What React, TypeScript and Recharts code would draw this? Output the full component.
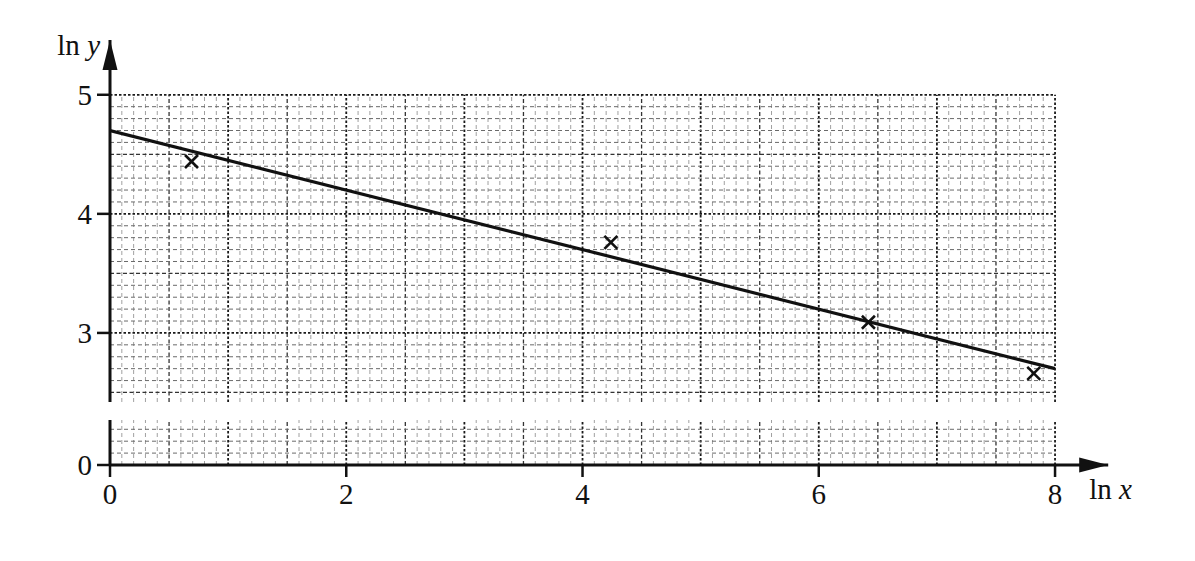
import React from 'react';
import {
  ComposedChart,
  XAxis,
  YAxis,
  Line,
  Scatter,
  ReferenceLine,
  ReferenceDot,
  Label,
} from 'recharts';

// ---- data ----
const xTicks = [0, 2, 4, 6, 8];
const upperYTicks = [3, 4, 5];
const lowerYTicks = [0];
const pointX = [0.69, 4.24, 6.42, 7.82];
const pointY = [4.44, 3.76, 3.09, 2.66];
const fitX = [0, 8];
const fitY = [4.7, 2.7];

const points = pointX.map((x, i) => ({ x, y: pointY[i] }));
const fit = fitX.map((x, i) => ({ x, y: fitY[i] }));

// ---- layout / style constants ----
const FONT = '"Liberation Serif", "Times New Roman", serif';
const INK = '#111';
const X_DOMAIN: [number, number] = [0, 8.45];
const GRID_X_MAX = 8;
const UPPER_DOMAIN: [number, number] = [2.42, 5.46];
const UPPER_GRID_TOP = 5;
const LOWER_DOMAIN: [number, number] = [0, 0.378];
const W = 1195;
const MARGIN_LEFT = 10;
const Y_AXIS_W = 100;
const MARGIN_RIGHT = 86.8;
const FS = 29;

const tenths = (from: number, to: number) => {
  const out: number[] = [];
  for (let i = Math.ceil(from * 10 - 1e-6); i <= Math.floor(to * 10 + 1e-6); i++) out.push(i);
  return out;
};

const styleFor = (i: number, horizontal: boolean) => {
  if (i % 10 === 0) return { stroke: '#1a1a1a', strokeWidth: 1.8, strokeDasharray: '2.5 2' };
  if (i % 5 === 0) return { stroke: '#333', strokeWidth: 1.3, strokeDasharray: '4 2.5' };
  return horizontal
    ? { stroke: '#6a6a6a', strokeWidth: 1, strokeDasharray: '4 3' }
    : { stroke: '#a0a0a0', strokeWidth: 1, strokeDasharray: '4 3' };
};

const verticalGrid = (y0: number, y1: number, key: string) =>
  tenths(0, GRID_X_MAX).map((i) => (
    <ReferenceLine
      key={`${key}v${i}`}
      segment={[
        { x: i / 10, y: y0 },
        { x: i / 10, y: y1 },
      ]}
      {...styleFor(i, false)}
      ifOverflow="visible"
    />
  ));

const horizontalGrid = (y0: number, y1: number, key: string) =>
  tenths(y0, y1)
    .filter((i) => i !== 0)
    .map((i) => (
      <ReferenceLine
        key={`${key}h${i}`}
        segment={[
          { x: 0, y: i / 10 },
          { x: GRID_X_MAX, y: i / 10 },
        ]}
        {...styleFor(i, true)}
        ifOverflow="visible"
      />
    ));

const Cross = (props: any) => {
  const { cx, cy } = props;
  if (cx == null || cy == null) return <g />;
  const s = 6.5;
  return (
    <g stroke={INK} strokeWidth={2.6}>
      <line x1={cx - s} y1={cy - s} x2={cx + s} y2={cy + s} />
      <line x1={cx - s} y1={cy + s} x2={cx + s} y2={cy - s} />
    </g>
  );
};

const ArrowUp = (props: any) => {
  const { cx, cy } = props;
  return <polygon points={`${cx},${cy} ${cx - 7.5},${cy + 30} ${cx + 7.5},${cy + 30}`} fill={INK} />;
};

const ArrowRight = (props: any) => {
  const { cx, cy } = props;
  return <polygon points={`${cx},${cy} ${cx - 29},${cy - 7.5} ${cx - 29},${cy + 7.5}`} fill={INK} />;
};

const XTick = (props: any) => {
  const { x, y, payload } = props;
  return (
    <text x={x} y={y} dy="0.71em" textAnchor="middle" fontSize={FS} fill={INK} style={{ fontFamily: FONT }}>
      {payload.value}
    </text>
  );
};

const YTick = (props: any) => {
  const { x, y, payload } = props;
  return (
    <text x={x} y={y} dy="0.355em" textAnchor="end" fontSize={FS} fill={INK} style={{ fontFamily: FONT }}>
      {payload.value}
    </text>
  );
};

const axisLineStyle = { stroke: INK, strokeWidth: 3 };
const tickLineStyle = { stroke: INK, strokeWidth: 2.5 };

const YLabel = (props: any) => {
  const vb = props.viewBox || { x: MARGIN_LEFT, y: 40, width: Y_AXIS_W, height: 0 };
  return (
    <text
      x={vb.x + vb.width - 10}
      y={vb.y + 15}
      textAnchor="end"
      fontSize={FS}
      fill={INK}
      style={{ fontFamily: FONT }}
    >
      <tspan>ln </tspan>
      <tspan fontStyle="italic">y</tspan>
    </text>
  );
};

const XLabel = (props: any) => {
  const vb = props.viewBox || { x: 110, y: 55, width: 998, height: 45 };
  return (
    <text
      x={vb.x + vb.width - 19}
      y={vb.y + 34}
      textAnchor="start"
      fontSize={FS}
      fill={INK}
      style={{ fontFamily: FONT }}
    >
      <tspan>ln </tspan>
      <tspan fontStyle="italic">x</tspan>
    </text>
  );
};

export default function App() {
  return (
    <div
      style={{
        position: 'absolute',
        left: 0,
        top: 0,
        width: W,
        height: 561,
        background: '#fff',
      }}
    >
      {/* upper part of broken axis */}
      <div style={{ position: 'absolute', left: 0, top: 0 }}>
        <ComposedChart
          width={W}
          height={410}
          margin={{ top: 40, right: MARGIN_RIGHT, bottom: 8, left: MARGIN_LEFT }}
        >
          <XAxis type="number" dataKey="x" domain={X_DOMAIN} hide allowDataOverflow />
          <YAxis
            type="number"
            domain={UPPER_DOMAIN}
            ticks={upperYTicks}
            interval={0}
            width={Y_AXIS_W}
            allowDataOverflow
            tickSize={13}
            tickMargin={5}
            axisLine={axisLineStyle}
            tickLine={tickLineStyle}
            tick={YTick}
          >
            <Label content={YLabel} />
          </YAxis>
          {verticalGrid(UPPER_DOMAIN[0], UPPER_GRID_TOP, 'u')}
          {horizontalGrid(2.5, UPPER_GRID_TOP, 'u')}
          <Line
            data={fit}
            dataKey="y"
            type="linear"
            stroke={INK}
            strokeWidth={3.2}
            dot={false}
            activeDot={false}
            isAnimationActive={false}
          />
          <Scatter data={points} dataKey="y" shape={Cross} isAnimationActive={false} />
          <ReferenceDot x={0} y={UPPER_DOMAIN[1]} r={0} shape={ArrowUp} ifOverflow="visible" />
        </ComposedChart>
      </div>
      {/* lower part of broken axis */}
      <div style={{ position: 'absolute', left: 0, top: 410 }}>
        <ComposedChart
          width={W}
          height={130}
          margin={{ top: 10, right: MARGIN_RIGHT, bottom: 30, left: MARGIN_LEFT }}
        >
          <XAxis
            type="number"
            dataKey="x"
            domain={X_DOMAIN}
            ticks={xTicks}
            interval={0}
            height={45}
            allowDataOverflow
            tickSize={12}
            tickMargin={6}
            axisLine={axisLineStyle}
            tickLine={tickLineStyle}
            tick={XTick}
          >
            <Label content={XLabel} />
          </XAxis>
          <YAxis
            type="number"
            domain={LOWER_DOMAIN}
            ticks={lowerYTicks}
            interval={0}
            width={Y_AXIS_W}
            allowDataOverflow
            tickSize={13}
            tickMargin={5}
            axisLine={axisLineStyle}
            tickLine={tickLineStyle}
            tick={YTick}
          />
          {verticalGrid(0, LOWER_DOMAIN[1], 'l')}
          {horizontalGrid(0.1, 0.3, 'l')}
          <ReferenceDot x={X_DOMAIN[1]} y={0} r={0} shape={ArrowRight} ifOverflow="visible" />
        </ComposedChart>
      </div>
    </div>
  );
}
